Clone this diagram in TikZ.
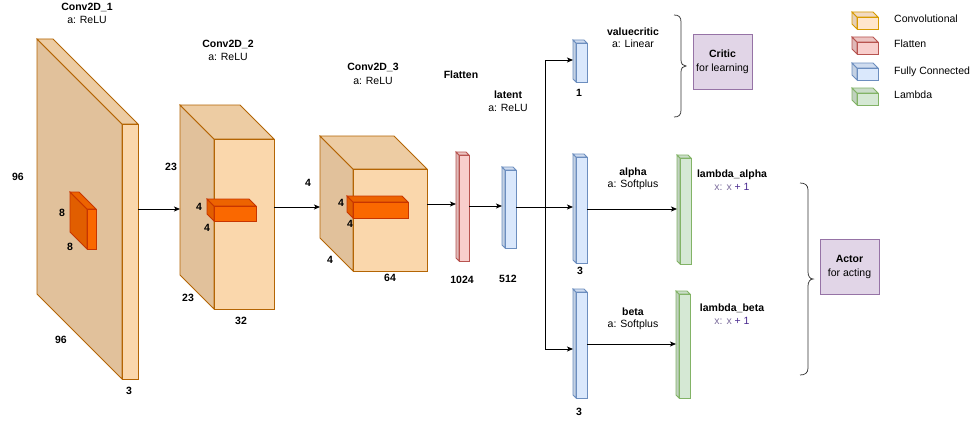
\documentclass[tikz,border=0pt]{standalone}
\usepackage{fontspec}
\setmainfont{Liberation Sans}
\usetikzlibrary{arrows.meta}
\definecolor{convF}{HTML}{FAD7AC}\definecolor{convL}{HTML}{B46504}
\definecolor{orgF}{HTML}{FA6800}\definecolor{orgL}{HTML}{C73500}
\definecolor{flF}{HTML}{F8CECC}\definecolor{flL}{HTML}{B85450}
\definecolor{fcF}{HTML}{DAE8FC}\definecolor{fcL}{HTML}{6C8EBF}
\definecolor{lmF}{HTML}{D5E8D4}\definecolor{lmL}{HTML}{82B366}
\definecolor{lgF}{HTML}{FFE6CC}\definecolor{lgL}{HTML}{D79B00}
\definecolor{boxF}{HTML}{E1D5E7}\definecolor{boxL}{HTML}{9673A6}
\definecolor{xg}{HTML}{7D6E9E}\definecolor{xp}{HTML}{4A2A90}
\definecolor{brc}{HTML}{333333}
\tikzset{
  cubeline/.style={line width=0.75pt, line join=miter},
  cubefront/.style={cubeline, anchor=north west, inner sep=0pt, outer sep=0pt},
  lbl/.style={font=\fontsize{10.5}{12}\selectfont, inner sep=0pt, text height=7.7pt, text depth=0.5pt},
  lblb/.style={lbl, font=\fontsize{10.5}{12}\selectfont\bfseries},
  lgd/.style={lbl, anchor=west},
  arr/.style={-{Stealth[length=6pt,width=5pt,inset=1.5pt]}, line width=0.75pt, black},
  plain/.style={line width=0.75pt, black},
  roleb/.style={draw=boxL, fill=boxF, line width=0.75pt, minimum width=59pt, minimum height=55pt,
     inner sep=0pt, align=center, font=\fontsize{10.5}{14}\selectfont},
  bracestyle/.style={draw=brc, line width=0.75pt}
}
% #1 name, #2 x, #3 y (front top-left), #4 w, #5 h, #6 depth, #7 palette
\newcommand\drawcube[7]{%
  \filldraw[fill=#7F!90!black, draw=#7L, cubeline] (#2,#3) -- ++(-#6,-#6) -- ++(0,#5) -- ++(#6,#6) -- cycle;
  \filldraw[fill=#7F!95!black, draw=#7L, cubeline] (#2,#3) -- ++(-#6,-#6) -- ++(#4,0) -- ++(#6,#6) -- cycle;
  \node[cubefront, fill=#7F, draw=#7L, minimum width=#4pt, minimum height=#5pt] (#1) at (#2,#3) {};
}
\begin{document}
\begin{tikzpicture}[x=1pt,y=-1pt]
\useasboundingbox (0,0) rectangle (973,420);
\fill[white] (0,0) rectangle (973,420);

% convolutional blocks
\drawcube{c1}{122}{124}{16}{255}{85}{conv}
\drawcube{o1}{87}{209}{9}{40}{17}{org}
\drawcube{c2}{214}{139}{60}{170}{34}{conv}
\drawcube{o2}{214}{206}{42}{15}{7}{org}
\drawcube{c3}{353}{169}{74}{102}{33}{conv}
\drawcube{o3}{353}{202}{55}{16}{6}{org}

% dense blocks
\drawcube{fl}{459}{155}{10}{106}{3}{fl}
\drawcube{lat}{505}{170}{11}{78}{3}{fc}
\drawcube{vc}{576}{43}{11}{39}{3}{fc}
\drawcube{al}{576}{157}{11}{106}{3}{fc}
\drawcube{be}{576}{292}{11}{106}{3}{fc}
\drawcube{la}{680}{158}{11}{106}{3}{lm}
\drawcube{lb}{679}{294}{11}{104}{3}{lm}

% legend
\drawcube{lg1}{857}{17}{21}{12}{5}{lg}
\drawcube{lg2}{857}{42}{21}{12}{5}{fl}
\drawcube{lg3}{857}{68}{21}{12}{5}{fc}
\drawcube{lg4}{857}{93}{21}{12}{5}{lm}
\node[lgd] (lt1) at (894,19) {Convolutional};
\node[lgd] (lt2) at (894,44) {Flatten};
\node[lgd] (lt3) at (894,71) {Fully Connected};
\node[lgd] (lt4) at (894,95) {Lambda};

% connector end points
\coordinate (in2) at (180,209);
\coordinate (in3) at (320,207);
\coordinate (in4) at (456,204);
\coordinate (in5) at (502,206);
\coordinate (jn) at (545,207);
\coordinate (vcin) at (573,60);
\coordinate (alin) at (573,207);
\coordinate (bein) at (573,349);
\coordinate (lain) at (677,209);
\coordinate (lbin) at (676,344);

\draw[arr] (c1.east |- in2) -- (in2);
\draw[arr] (c2.east |- in3) -- (in3);
\draw[arr] (c3.east |- in4) -- (in4);
\draw[arr] (fl.east |- in5) -- (in5);
\draw[plain] (lat.east |- jn) -- (jn);
\draw[arr] (jn) -- (alin);
\draw[arr] (jn) |- (vcin);
\draw[arr] (jn) |- (bein);
\draw[arr] (al.east |- lain) -- (lain);
\draw[arr] (be.east |- lbin) -- (lbin);

% titles
\node[lblb] (t1a) at (87,7) {Conv2D\_1};
\node[lbl]  (t1b) at (87,20) {a: ReLU};
\node[lblb] (t2a) at (228,44) {Conv2D\_2};
\node[lbl]  (t2b) at (228,57) {a: ReLU};
\node[lblb] (t3a) at (373,67) {Conv2D\_3};
\node[lbl]  (t3b) at (373,81) {a: ReLU};
\node[lblb] (tfl) at (461,75) {Flatten};
\node[lblb] (tla) at (508,95) {latent};
\node[lbl]  (tlb) at (508,108) {a: ReLU};
\node[lblb] (tva) at (633,32) {valuecritic};
\node[lbl]  (tvb) at (633,44) {a: Linear};
\node[lblb] (taa) at (633,172) {alpha};
\node[lbl]  (tab) at (633,184) {a: Softplus};
\node[lblb] (tba) at (633,312) {beta};
\node[lbl]  (tbb) at (633,324) {a: Softplus};
\node[lblb] (tlaa) at (732,174) {lambda\_alpha};
\node[lbl]  (tlab) at (732,187) {\textcolor{xg}{x: x} \textcolor{xp}{+ 1}};
\node[lblb] (tlba) at (732,308) {lambda\_beta};
\node[lbl]  (tlbb) at (732,321) {\textcolor{xg}{x: x} \textcolor{xp}{+ 1}};

% dimension labels
\node[lblb] (d1) at (18,177) {96};
\node[lblb] (d2) at (62,213) {8};
\node[lblb] (d3) at (70,247) {8};
\node[lblb] (d4) at (61,340) {96};
\node[lblb] (d5) at (129,391) {3};
\node[lblb] (d6) at (171,167) {23};
\node[lblb] (d7) at (199,207) {4};
\node[lblb] (d8) at (207,228) {4};
\node[lblb] (d9) at (188,298) {23};
\node[lblb] (d10) at (241,321) {32};
\node[lblb] (d11) at (308,183) {4};
\node[lblb] (d12) at (341,203) {4};
\node[lblb] (d13) at (350,224) {4};
\node[lblb] (d14) at (330,260) {4};
\node[lblb] (d15) at (390,278) {64};
\node[lblb] (d16) at (462,280) {1024};
\node[lblb] (d17) at (508,279) {512};
\node[lblb] (d18) at (579,93) {1};
\node[lblb] (d19) at (580,271) {3};
\node[lblb] (d20) at (579,412) {3};

% role boxes
\node[roleb] (critic) at (722.5,61.5) {\textbf{Critic}\\for learning};
\node[roleb] (actor) at (849.5,266.5) {\textbf{Actor}\\for acting};

% braces
\draw[bracestyle] (674,15) .. controls (679,15) and (681,17) .. (681,22) -- (681,60)
  .. controls (681,64) and (683,66) .. (686,66) .. controls (683,66) and (681,68) .. (681,72)
  -- (681,110) .. controls (681,115) and (679,117) .. (674,117);
\draw[bracestyle] (800,183) .. controls (805,183) and (808,185) .. (808,190) -- (808,272)
  .. controls (808,276) and (810,279) .. (813,279) .. controls (810,279) and (808,282) .. (808,286)
  -- (808,368) .. controls (808,373) and (805,375) .. (800,375);
\end{tikzpicture}
\end{document}
